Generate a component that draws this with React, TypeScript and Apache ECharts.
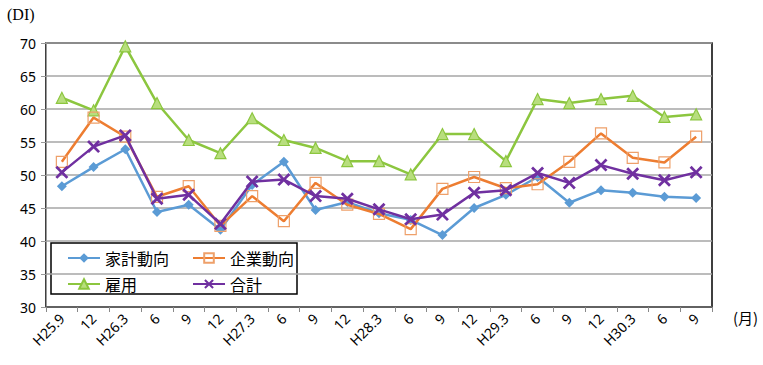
import React, { useEffect, useRef } from "react";
import * as echarts from "echarts";

const categories = ["H25.9", "12", "H26.3", "6", "9", "12", "H27.3", "6", "9", "12", "H28.3", "6", "9", "12", "H29.3", "6", "9", "12", "H30.3", "6", "9"];
const household = [48.3, 51.2, 53.9, 44.4, 45.5, 41.7, 48.5, 52.0, 44.7, 45.9, 44.2, 43.2, 40.9, 45.0, 47.0, 49.7, 45.8, 47.7, 47.3, 46.7, 46.5];
const corporate = [52.0, 58.7, 55.8, 46.7, 48.3, 42.3, 46.8, 43.0, 48.8, 45.5, 44.1, 41.8, 47.9, 49.7, 48.0, 48.6, 52.0, 56.3, 52.6, 51.9, 55.8];
const employment = [61.7, 59.8, 69.5, 60.9, 55.3, 53.3, 58.6, 55.3, 54.1, 52.1, 52.1, 50.1, 56.2, 56.2, 52.1, 61.5, 60.9, 61.5, 62.0, 58.8, 59.2];
const total = [50.4, 54.3, 56.0, 46.4, 47.0, 42.6, 49.0, 49.3, 46.8, 46.4, 44.8, 43.3, 44.0, 47.3, 47.7, 50.3, 48.8, 51.5, 50.2, 49.2, 50.4];
const seriesNames = ["家計動向", "企業動向", "雇用", "合計"];

const FONT = "'Noto Sans CJK JP', sans-serif";
const LATIN = "'Noto Sans', 'Noto Sans CJK JP', sans-serif";
const SERIF = "'Liberation Serif', 'DejaVu Serif', serif";
const XSYM = "path://M0,1.5L1.5,0L5,3.5L8.5,0L10,1.5L6.5,5L10,8.5L8.5,10L5,6.5L1.5,10L0,8.5L3.5,5Z";

export default function App() {
  const ref = useRef<HTMLDivElement>(null);
  useEffect(() => {
    if (!ref.current) return;
    const chart = echarts.init(ref.current, undefined, { renderer: "svg" });
    chart.setOption({
      animation: false,
      backgroundColor: "#fff",
      textStyle: { fontFamily: FONT },
      grid: {
        left: 46, right: 51, top: 43, bottom: 58,
        show: true, borderColor: "#000", borderWidth: 1.5, backgroundColor: "transparent",
      },
      xAxis: {
        type: "category",
        data: categories,
        boundaryGap: true,
        axisLine: { lineStyle: { color: "#555", width: 1.5 } },
        axisTick: { show: true, alignWithLabel: false, length: 5, lineStyle: { color: "#888" } },
        axisLabel: { rotate: 45, fontSize: 14, color: "#000", fontFamily: LATIN, margin: 9, interval: 0 },
      },
      yAxis: {
        type: "value",
        min: 30, max: 70, interval: 5,
        axisLine: { show: true, lineStyle: { color: "#999", width: 1 } },
        axisTick: { show: true, length: 5, lineStyle: { color: "#999" } },
        axisLabel: { fontSize: 14, color: "#000", fontFamily: LATIN, margin: 10 },
        splitLine: { lineStyle: { color: "#a6a6a6", width: 1.5 } },
      },
      legend: [
        {
          data: [seriesNames[0], seriesNames[2]],
          orient: "vertical",
          left: 62, top: 245,
          itemWidth: 32, itemHeight: 12, itemGap: 10,
          textStyle: { fontSize: 16, color: "#000", fontFamily: FONT },
        },
        {
          data: [seriesNames[1], seriesNames[3]],
          orient: "vertical",
          left: 187, top: 245,
          itemWidth: 32, itemHeight: 12, itemGap: 10,
          textStyle: { fontSize: 16, color: "#000", fontFamily: FONT },
        },
      ],
      graphic: [
        { type: "rect", shape: { x: 51, y: 243, width: 246, height: 51 }, style: { fill: "#fff", stroke: "#000", lineWidth: 1.5 }, z: 0, zlevel: 0 },
        { type: "text", left: 7, top: 6, style: { text: "(DI)", fontSize: 16, fill: "#000", fontFamily: SERIF } },
        { type: "text", left: 733, top: 310, style: { text: "(月)", fontSize: 15, fill: "#000", fontFamily: FONT } },
      ],
      series: [
        {
          name: seriesNames[0], type: "line", data: household,
          symbol: "diamond", symbolSize: 10,
          itemStyle: { color: "#5b9bd5" },
          lineStyle: { color: "#5b9bd5", width: 2.5 },
          z: 3,
        },
        {
          name: seriesNames[1], type: "line", data: corporate,
          symbol: "rect", symbolSize: 11,
          itemStyle: { color: "rgba(255,255,255,0)", borderColor: "#eea06a", borderWidth: 1.2 },
          lineStyle: { color: "#ed7d31", width: 2.5 },
          z: 4,
        },
        {
          name: seriesNames[2], type: "line", data: employment,
          symbol: "triangle", symbolSize: 11,
          itemStyle: { color: "#b8de7e", borderColor: "#8cc63f", borderWidth: 1.2 },
          lineStyle: { color: "#8cc63f", width: 2.5 },
          z: 2,
        },
        {
          name: seriesNames[3], type: "line", data: total,
          symbol: XSYM, symbolSize: 13,
          itemStyle: { color: "#7030a0" },
          lineStyle: { color: "#7030a0", width: 2.5 },
          z: 5,
        },
      ],
    });
    return () => chart.dispose();
  }, []);
  return <div ref={ref} style={{ position: "fixed", left: 0, top: 0, width: 763, height: 365 }} />;
}
